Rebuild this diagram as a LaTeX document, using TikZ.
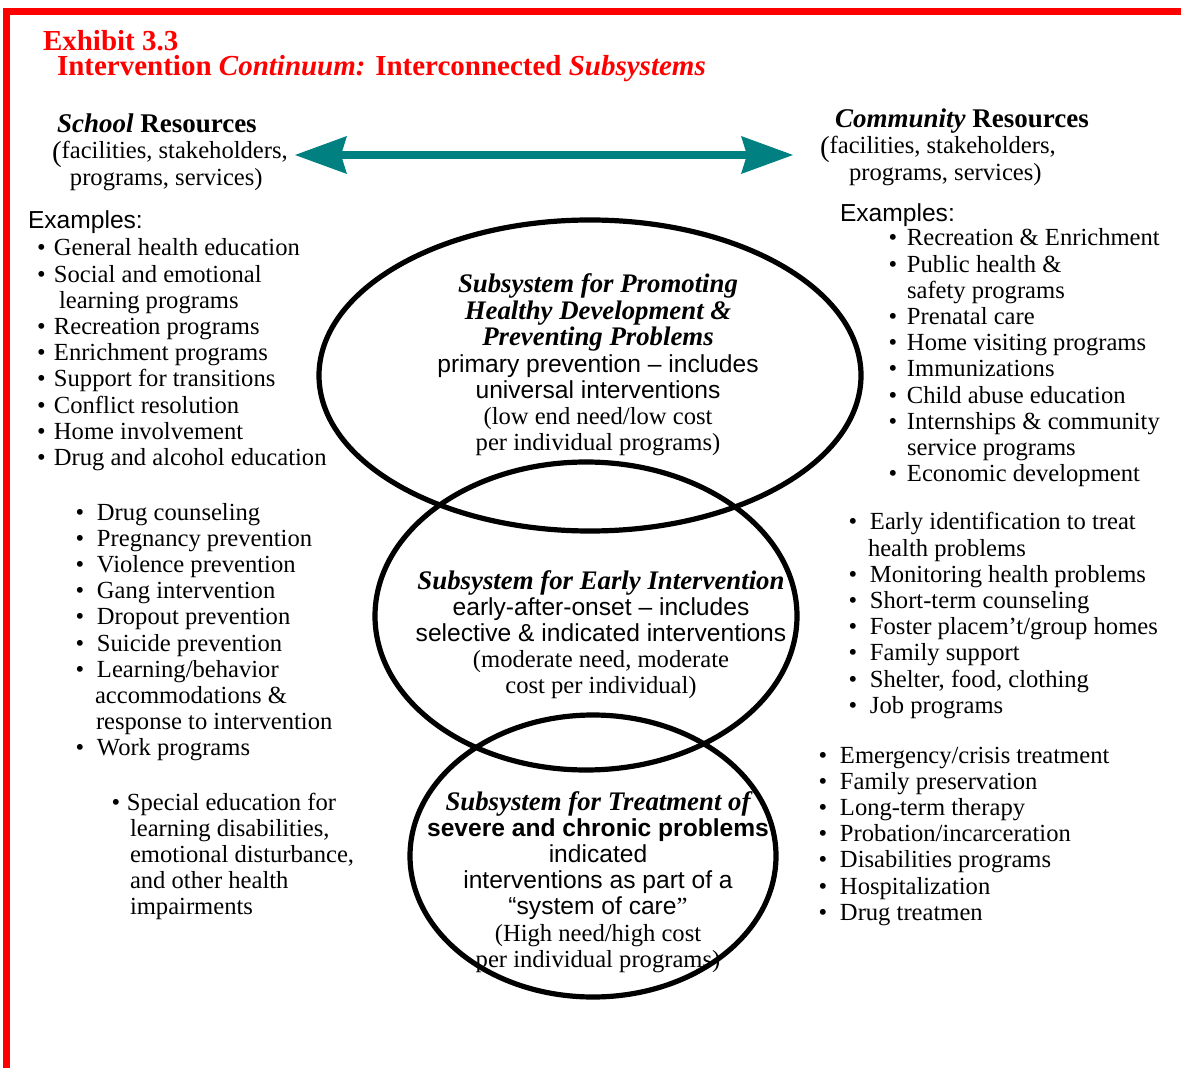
\documentclass[tikz,border=0pt]{standalone}
\usepackage{fontspec}
\setmainfont{Liberation Serif}
\setsansfont{Liberation Sans}
\usetikzlibrary{shapes.geometric,arrows.meta}

\definecolor{framered}{RGB}{255,0,0}
\definecolor{arrowteal}{RGB}{0,128,128}

\newcommand{\bodyfont}{\fontsize{12.3}{13.1}\selectfont}
\newcommand{\headfont}{\fontsize{13.5}{14}\selectfont\bfseries}
\newcommand{\subfont}{\fontsize{13.4}{13.1}\selectfont\bfseries\itshape}
\newcommand{\dotitem}[1][8.5pt]{\makebox[#1][l]{\textbullet}}
\newcommand{\bigparen}{\raisebox{-1.2pt}{\fontsize{14.5}{15}\selectfont(}}

\begin{document}
\begin{tikzpicture}[x=0.5pt, y=-0.5pt,
    every node/.style={inner sep=0pt, outer sep=0pt},
    title/.style={anchor=base west, text=framered, font=\fontsize{14.5}{15}\selectfont\bfseries},
    head/.style={anchor=base west, font=\headfont},
    list/.style={anchor=base west, font=\bodyfont},
    inside/.style={anchor=base, font=\bodyfont},
    ring/.style={ellipse, draw, line width=2.6pt},
    frame/.style={draw=framered, line width=3.5pt},
    link/.style={draw=arrowteal, line width=4.2pt,
      {Stealth[length=26pt,width=19pt,inset=3pt,line width=0pt]}-{Stealth[length=26pt,width=19pt,inset=3pt,line width=0pt]}}]
    \useasboundingbox (0,0) rectangle (1181,1068);
    \draw[frame] (6.5,1068) -- (6.5,11.5) -- (1181,11.5);

    % title
    \node[title] (exhibit) at (43,51) {Exhibit 3.3};
    \node[title] (heading) at (57,76) {Intervention \textit{Continuum:} Interconnected \textit{Subsystems}};

    % the two sides
    \node[head] (school) at (57,133) {\textit{School} Resources};
    \node[list] (schoolNote) at (52,159) {\begin{tabular}[t]{@{}l@{}}
        \bigparen facilities, stakeholders,\\
        \hspace*{9pt}programs, services)
    \end{tabular}};
    \node[head] (community) at (835,128) {\textit{Community} Resources};
    \node[list] (communityNote) at (820,154) {\begin{tabular}[t]{@{}l@{}}
        \bigparen facilities, stakeholders,\\
        \hspace*{14.5pt}programs, services)
    \end{tabular}};
    \coordinate (arrL) at (295,155);
    \coordinate (arrR) at (793,155);
    \draw[link] (arrL) -- (arrR);

    % subsystems
    \node[ring, minimum width=271pt, minimum height=155.5pt] (promote) at (590,375.5) {};
    \node[ring, minimum width=211pt, minimum height=154pt] (early) at (586,616) {};
    \node[ring, minimum width=183pt, minimum height=141pt] (treat) at (593,856) {};

    \node[inside] (promoteTxt) at (598,293) {\begin{tabular}[t]{@{}c@{}}
        {\subfont Subsystem for Promoting}\\
        {\subfont Healthy Development \&}\\
        {\subfont Preventing Problems}\\
        \sffamily primary prevention \textendash{} includes\\
        \sffamily universal interventions\\
        (low end need/low cost\\
        per individual programs)
    \end{tabular}};
    \node[inside] (earlyTxt) at (601,589) {\begin{tabular}[t]{@{}c@{}}
        {\subfont Subsystem for Early Intervention}\\
        \sffamily early-after-onset \textendash{} includes\\
        \sffamily selective \& indicated interventions\\
        (moderate need, moderate\\
        cost per individual)
    \end{tabular}};
    \node[inside] (treatTxt) at (598,810) {\begin{tabular}[t]{@{}c@{}}
        {\subfont Subsystem for Treatment of}\\
        \sffamily\bfseries severe and chronic problems\\
        \sffamily indicated\\
        \sffamily interventions as part of a\\
        \sffamily “system of care{\rmfamily ”}\\
        (High need/high cost\\
        per individual programs)
    \end{tabular}};

    % school examples
    \node[list, font=\bodyfont\sffamily] (schoolEx) at (28,229) {Examples:};
    \node[list] (schoolA) at (37,256) {\begin{tabular}[t]{@{}l@{}}
        \dotitem General health education\\
        \dotitem Social and emotional\\
        \hspace*{11pt}learning programs\\
        \dotitem Recreation programs\\
        \dotitem Enrichment programs\\
        \dotitem Support for transitions\\
        \dotitem Conflict resolution\\
        \dotitem Home involvement\\
        \dotitem Drug and alcohol education
    \end{tabular}};
    \node[list] (schoolB) at (75.5,520) {\begin{tabular}[t]{@{}l@{}}
        \dotitem[10.75pt]Drug counseling\\
        \dotitem[10.75pt]Pregnancy prevention\\
        \dotitem[10.75pt]Violence prevention\\
        \dotitem[10.75pt]Gang intervention\\
        \dotitem[10.75pt]Dropout prevention\\
        \dotitem[10.75pt]Suicide prevention\\
        \dotitem[10.75pt]Learning/behavior\\
        \hspace*{9.75pt}accommodations \&\\
        \hspace*{10.25pt}response to intervention\\
        \dotitem[10.75pt]Work programs
    \end{tabular}};
    \node[list] (schoolC) at (111.5,810) {\begin{tabular}[t]{@{}l@{}}
        \dotitem[7.75pt]Special education for\\
        \hspace*{9.25pt}learning disabilities,\\
        \hspace*{9.25pt}emotional disturbance,\\
        \hspace*{9.25pt}and other health\\
        \hspace*{9.25pt}impairments
    \end{tabular}};

    % community examples
    \node[list, font=\bodyfont\sffamily] (communityEx) at (840,222) {Examples:};
    \node[list] (communityA) at (888.5,246) {\begin{tabular}[t]{@{}l@{}}
        \dotitem[9.25pt]Recreation \& Enrichment\\
        \dotitem[9.25pt]Public health \&\\
        \hspace*{9.25pt}safety programs\\
        \dotitem[9.25pt]Prenatal care\\
        \dotitem[9.25pt]Home visiting programs\\
        \dotitem[9.25pt]Immunizations\\
        \dotitem[9.25pt]Child abuse education\\
        \dotitem[9.25pt]Internships \& community\\
        \hspace*{9.25pt}service programs\\
        \dotitem[9.25pt]Economic development
    \end{tabular}};
    \node[list] (communityB) at (848.5,530) {\begin{tabular}[t]{@{}l@{}}
        \dotitem[10.75pt]Early identification to treat\\
        \hspace*{9.75pt}health problems\\
        \dotitem[10.75pt]Monitoring health problems\\
        \dotitem[10.75pt]Short-term counseling\\
        \dotitem[10.75pt]Foster placem’t/group homes\\
        \dotitem[10.75pt]Family support\\
        \dotitem[10.75pt]Shelter, food, clothing\\
        \dotitem[10.75pt]Job programs
    \end{tabular}};
    \node[list] (communityC) at (818.5,763) {\begin{tabular}[t]{@{}l@{}}
        \dotitem[10.75pt]Emergency/crisis treatment\\
        \dotitem[10.75pt]Family preservation\\
        \dotitem[10.75pt]Long-term therapy\\
        \dotitem[10.75pt]Probation/incarceration\\
        \dotitem[10.75pt]Disabilities programs\\
        \dotitem[10.75pt]Hospitalization\\
        \dotitem[10.75pt]Drug treatmen
    \end{tabular}};
\end{tikzpicture}
\end{document}
